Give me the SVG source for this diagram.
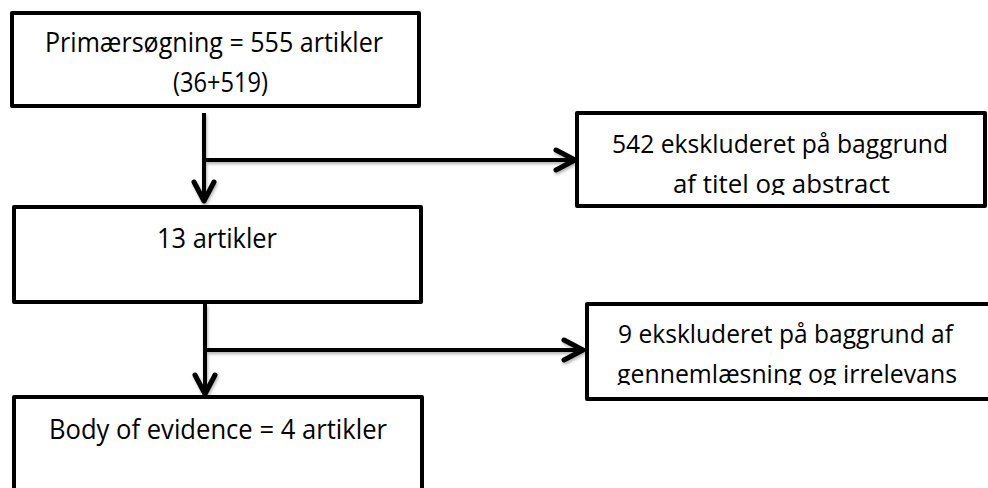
<svg xmlns="http://www.w3.org/2000/svg" width="988" height="488" viewBox="0 0 988 488">
  <style>
    .box { fill: #ffffff; stroke: #000000; stroke-width: 4; stroke-linejoin: round; }
    .lbl { font-family: "Open Sans", "Liberation Sans", sans-serif; font-size: 28px; fill: #000000; }
    .lbl-r { font-size: 26px; }
    .conn { fill: none; stroke: #000000; stroke-width: 4; }
  </style>
  <defs>
    <marker id="arrow" markerUnits="userSpaceOnUse" viewBox="-24 -14 28 28" refX="0" refY="0" markerWidth="28" markerHeight="28" orient="auto" overflow="visible">
      <path d="M-19,-10 L0,0 L-19,10" fill="none" stroke="#000000" stroke-width="5" stroke-linejoin="round" stroke-linecap="round"/>
    </marker>
    <filter id="shadow" x="-10%" y="-10%" width="120%" height="140%">
      <feDropShadow dx="1" dy="2" stdDeviation="1.5" flood-color="#000000" flood-opacity="0.3"/>
    </filter>
    <clipPath id="clipR1"><rect x="579" y="160" width="404" height="35"/></clipPath>
    <clipPath id="clipR2"><rect x="589" y="350" width="399" height="35"/></clipPath>
  </defs>
  <rect width="988" height="488" fill="#ffffff"/>

  <g id="connectors" filter="url(#shadow)">
    <path class="conn" d="M204,113 V201" marker-end="url(#arrow)"/>
    <path class="conn" d="M204,160 H575" marker-end="url(#arrow)"/>
    <path class="conn" d="M205,304 V394" marker-end="url(#arrow)"/>
    <path class="conn" d="M205,350 H583" marker-end="url(#arrow)"/>
  </g>

  <g id="node-primary">
    <rect class="box" x="12" y="13" width="407" height="93"/>
    <text class="lbl" x="45" y="52" textLength="338" lengthAdjust="spacingAndGlyphs">Primærsøgning = 555 artikler</text>
    <text class="lbl" x="173" y="92" textLength="95" lengthAdjust="spacingAndGlyphs">(36+519)</text>
  </g>

  <g id="node-13">
    <rect class="box" x="14" y="207" width="407" height="95"/>
    <text class="lbl" x="157" y="248" textLength="120" lengthAdjust="spacingAndGlyphs">13 artikler</text>
  </g>

  <g id="node-body">
    <rect class="box" x="14" y="397" width="408" height="130"/>
    <text class="lbl" x="49" y="439" textLength="338" lengthAdjust="spacingAndGlyphs">Body of evidence = 4 artikler</text>
  </g>

  <g id="node-excl1">
    <rect class="box" x="577" y="113" width="408" height="93"/>
    <text class="lbl lbl-r" x="612" y="153" textLength="336" lengthAdjust="spacingAndGlyphs">542 ekskluderet på baggrund</text>
    <g clip-path="url(#clipR1)">
      <text class="lbl lbl-r" x="673" y="193" textLength="217" lengthAdjust="spacingAndGlyphs">af titel og abstract</text>
    </g>
  </g>

  <g id="node-excl2">
    <rect class="box" x="587" y="304" width="430" height="95"/>
    <text class="lbl lbl-r" x="618" y="343" textLength="335" lengthAdjust="spacingAndGlyphs">9 ekskluderet på baggrund af</text>
    <g clip-path="url(#clipR2)">
      <text class="lbl lbl-r" x="617" y="383" textLength="340" lengthAdjust="spacingAndGlyphs">gennemlæsning og irrelevans</text>
    </g>
  </g>
</svg>
